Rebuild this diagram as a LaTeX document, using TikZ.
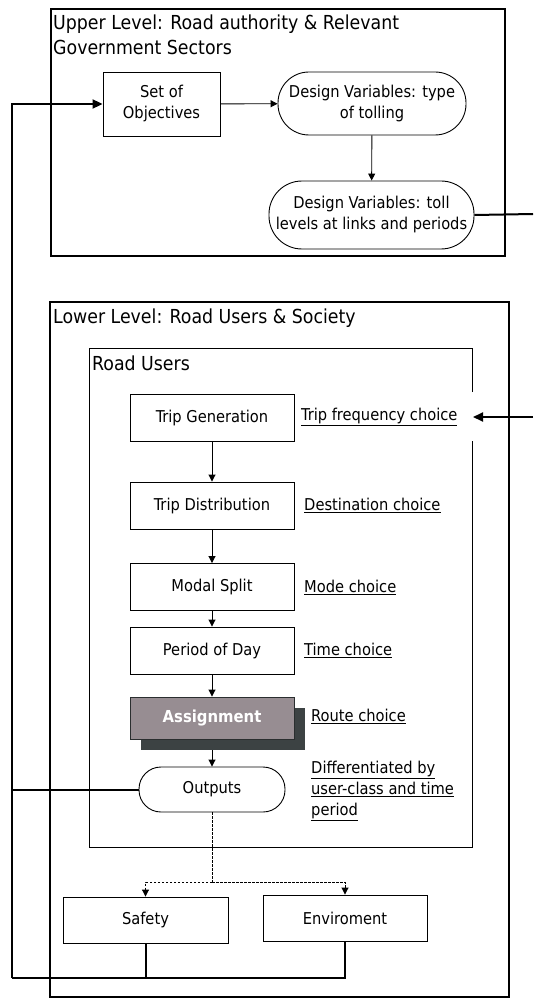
\documentclass[tikz,border=0pt]{standalone}
\usepackage{fontspec}
\setmainfont{DejaVu Sans Condensed}
\usetikzlibrary{arrows.meta}
\definecolor{assignfill}{HTML}{978D92}
\definecolor{assignshadow}{HTML}{3C4243}
\tikzset{
  every node/.style={font=\fontsize{16.3}{21}\selectfont, align=center, inner sep=0pt},
  stepbox/.style={draw, line width=0.9pt, minimum width=164pt, minimum height=47pt},
  stadium/.style={draw, line width=0.9pt},
  lab/.style={anchor=west, align=left},
  title/.style={anchor=north west, align=left, font=\fontsize{19.3}{25}\selectfont},
  thin arrow/.style={line width=0.9pt, -{Triangle[length=7pt,width=7pt]}},
  fb/.style={line width=2pt},
  fb arrow/.style={line width=2pt, -{Triangle[length=10pt,width=9pt]}},
  dashline/.style={line width=0.9pt, dashed, dash pattern=on 2.5pt off 1.5pt},
}
\begin{document}
\begin{tikzpicture}[x=1pt,y=-1pt]
\useasboundingbox (0,0) rectangle (533,1000);
% upper level
\draw[line width=2pt] (51,9) rectangle (505,256);
\node[title] (ut) at (53,15) {Upper Level: Road authority \& Relevant\\Government Sectors};
\node[draw, line width=0.9pt, minimum width=117pt, minimum height=64pt] (obj) at (161.5,104) {Set of\\Objectives};
\node[stadium, minimum width=188pt, minimum height=63pt, rounded corners=31pt] (dvt) at (372,103.5) {Design Variables: type\\of tolling};
\node[stadium, minimum width=205pt, minimum height=68pt, rounded corners=33pt] (dvl) at (371.5,215) {Design Variables: toll\\levels at links and periods};
\draw[thin arrow] (obj) -- (dvt);
\draw[thin arrow] (dvt) -- (dvl);
% lower level
\draw[line width=1.6pt] (50,302) rectangle (509,997);
\node[title] (lt) at (53,309) {Lower Level: Road Users \& Society};
% road users box with gap
\draw[line width=1pt] (472,392) -- (472,348) -- (89,348) -- (89,847) -- (472,847) -- (472,441);
\node[title] (rt) at (92,356) {Road Users};
\node[stepbox] (tg) at (212,417.5) {Trip Generation};
\node[stepbox] (td) at (212,505.5) {Trip Distribution};
\node[stepbox] (ms) at (212,587) {Modal Split};
\node[stepbox] (pd) at (212,650.5) {Period of Day};
\fill[assignshadow] (141,708) rectangle (305,750);
\node[draw=assignshadow!70!black, line width=0.9pt, fill=assignfill, minimum width=164pt, minimum height=42pt, text=white, font=\fontsize{16.5}{21}\selectfont\bfseries] (as) at (212,718) {Assignment};
\node[stadium, minimum width=146pt, minimum height=45pt, rounded corners=22pt] (out) at (212,789.5) {Outputs};
\draw[thin arrow] (tg) -- (td);
\draw[thin arrow] (td) -- (ms);
\draw[thin arrow] (ms) -- (pd);
\draw[thin arrow] (pd) -- (as);
\draw[thin arrow] (212,750) -- (out);
% labels
\node[lab] (l1) at (301,417) {\underline{Trip frequency choice}};
\node[lab] (l2) at (304,505) {\underline{Destination choice}};
\node[lab] (l3) at (304,587) {\underline{Mode choice}};
\node[lab] (l4) at (304,650) {\underline{Time choice}};
\node[lab] (l5) at (311,716) {\underline{Route choice}};
\node[lab] (l6) at (311,791) {\underline{Differentiated by}\\\underline{user-class and time}\\\underline{period}};
% safety / environment
\node[stepbox, minimum width=165pt, minimum height=46pt] (sf) at (145.5,920) {Safety};
\node[stepbox, minimum height=46pt] (en) at (345,918) {Enviroment};
\coordinate (split) at (212,882);
\draw[dashline] (out.south) -- (split);
\draw[dashline, -{Triangle[length=7pt,width=7pt]}] (split) -| (sf.north);
\draw[dashline, -{Triangle[length=7pt,width=7pt]}] (split) -| (en.north);
% feedback lines
\coordinate (fbl) at (12,978);
\coordinate (rt1) at (533,214);
\coordinate (rt2) at (533,417);
\coordinate (tip) at (473,417);
\draw[fb] (dvl.east) -- (rt1);
\draw[fb arrow] (rt2) -- (tip);
\draw[fb] (sf.south) |- (fbl);
\draw[fb] (en.south) |- (fbl);
\draw[fb] (out.west) -- (12,789.5);
\draw[fb arrow] (fbl) |- (obj.west);
\end{tikzpicture}
\end{document}
